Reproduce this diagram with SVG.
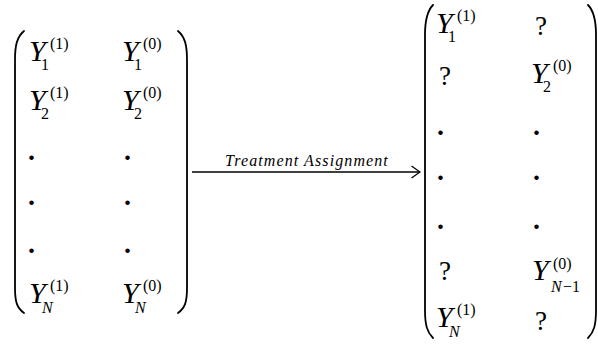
<svg xmlns="http://www.w3.org/2000/svg" width="598" height="344" viewBox="0 0 598 344">
<defs>
<style>
.bg{fill:#fff}
.p{fill:none;stroke:#000;stroke-width:1.8;stroke-linecap:round}
.Y{font-family:"Liberation Serif","Times New Roman",serif;font-style:italic;font-size:30px;fill:#000}
.s{font-family:"Liberation Serif","Times New Roman",serif;font-size:16px;fill:#000}
.si{font-family:"Liberation Serif","Times New Roman",serif;font-style:italic;font-size:16px;fill:#000}
.q{font-family:"Liberation Serif","Times New Roman",serif;font-size:27px;fill:#000}
.d{font-family:"Liberation Serif","Times New Roman",serif;font-size:28px;font-weight:bold;fill:#000}
.lbl{font-family:"Liberation Serif","Times New Roman",serif;font-style:italic;font-size:16px;fill:#000;letter-spacing:1.1px}
.ln{fill:none;stroke:#000;stroke-width:1.4}
</style>
<marker id="ah" viewBox="0 0 10 14" refX="9.5" refY="7" markerWidth="10" markerHeight="14" markerUnits="userSpaceOnUse" orient="auto">
<path d="M1,1 L9.5,7 L1,13" fill="none" stroke="#000" stroke-width="1.3"/>
</marker>
</defs>
<rect class="bg" x="0" y="0" width="598" height="344"/>

<g id="potential-outcomes">
<path class="p" d="M24 31 C17 37 15 45 15 60 L15 288 C15 302 17 308 24 313"/>
<path class="p" d="M178 31 C185 37 187 45 187 60 L187 288 C187 302 185 308 178 313"/>
<text class="Y" x="29" y="61">Y</text><text class="s" x="41" y="70">1</text><text class="s" x="50" y="49">(1)</text>
<text class="Y" x="122" y="61">Y</text><text class="s" x="134" y="70">1</text><text class="s" x="143" y="49">(0)</text>
<text class="Y" x="29" y="110">Y</text><text class="s" x="41" y="119">2</text><text class="s" x="50" y="98">(1)</text>
<text class="Y" x="122" y="110">Y</text><text class="s" x="134" y="119">2</text><text class="s" x="143" y="98">(0)</text>
<text class="d" x="28" y="160">.</text><text class="d" x="124" y="160">.</text>
<text class="d" x="28" y="205">.</text><text class="d" x="124" y="205">.</text>
<text class="d" x="28" y="253">.</text><text class="d" x="124" y="253">.</text>
<text class="Y" x="29" y="303">Y</text><text class="si" x="42" y="313">N</text><text class="s" x="50" y="291">(1)</text>
<text class="Y" x="122" y="303">Y</text><text class="si" x="135" y="313">N</text><text class="s" x="143" y="291">(0)</text>
</g>

<g id="observed-outcomes">
<path class="p" d="M433 5 C427 11 425 20 425 35 L425 310 C425 325 427 332 433 338"/>
<path class="p" d="M588 5 C594 11 596 20 596 35 L596 310 C596 325 594 332 588 338"/>
<text class="Y" x="436" y="33">Y</text><text class="s" x="448" y="42">1</text><text class="s" x="457" y="21">(1)</text>
<text class="q" x="535" y="35">?</text>
<text class="q" x="439" y="85">?</text>
<text class="Y" x="531" y="83">Y</text><text class="s" x="543" y="92">2</text><text class="s" x="553" y="71">(0)</text>
<text class="d" x="437" y="135">.</text><text class="d" x="533" y="135">.</text>
<text class="d" x="437" y="180">.</text><text class="d" x="533" y="180">.</text>
<text class="d" x="437" y="229">.</text><text class="d" x="533" y="229">.</text>
<text class="q" x="439" y="280">?</text>
<text class="Y" x="532" y="280">Y</text><text class="si" x="551" y="292">N</text><text class="s" x="563" y="292">−1</text><text class="s" x="553" y="269">(0)</text>
<text class="Y" x="436" y="327">Y</text><text class="si" x="449" y="337">N</text><text class="s" x="457" y="315">(1)</text>
<text class="q" x="535" y="330">?</text>
</g>

<g id="connectors">
<line class="ln" x1="192" y1="172" x2="420" y2="172" marker-end="url(#ah)"/>
<text class="lbl" x="307" y="166" text-anchor="middle">Treatment Assignment</text>
</g>
</svg>
